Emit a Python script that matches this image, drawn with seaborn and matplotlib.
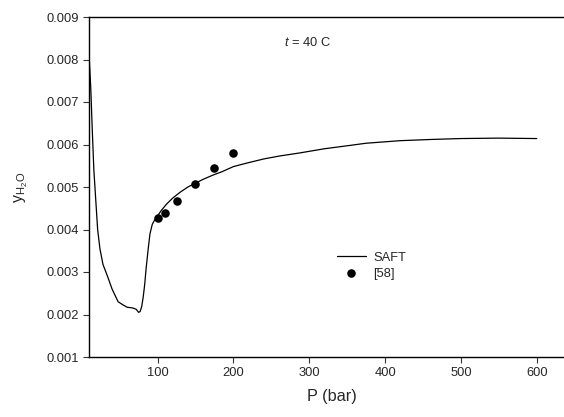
import matplotlib
matplotlib.use("Agg")
import matplotlib.pyplot as plt
import seaborn as sns
import pandas as pd

# SAFT model curve
saft_P = [10, 12, 14, 16, 18.5, 21, 24, 28, 34, 40, 48, 55, 60, 65, 68, 72, 75, 77,
          79, 81, 83, 85, 88, 90, 93, 96, 100, 105, 112, 120, 130, 140, 151, 160,
          173, 185, 200, 217, 240, 261, 287, 320, 350, 375, 420, 463, 500, 550, 600]
saft_y = [0.0080, 0.0073, 0.0063, 0.0054, 0.0047, 0.0040, 0.00355, 0.00318, 0.0029,
          0.00260, 0.0023, 0.00222, 0.00217, 0.00216, 0.00215, 0.00212, 0.00205,
          0.00207, 0.00218, 0.0024, 0.0027, 0.0031, 0.0036, 0.0039, 0.00412, 0.00422,
          0.00432, 0.00445, 0.00460, 0.00474, 0.00488, 0.00500, 0.00510, 0.00518,
          0.00528, 0.00536, 0.00548, 0.00556, 0.00566, 0.00573, 0.00580, 0.00590,
          0.00597, 0.00603, 0.00609, 0.00612, 0.00614, 0.00615, 0.00614]

# Experimental data [58]
exp_P = [100, 110, 125, 150, 175, 200]
exp_y = [0.00428, 0.00440, 0.00468, 0.00508, 0.00544, 0.00581]

x_ticks = [100, 200, 300, 400, 500, 600]
y_ticks = [0.001, 0.002, 0.003, 0.004, 0.005, 0.006, 0.007, 0.008, 0.009]

sns.set_style("ticks")
plt.rcParams['font.family'] = ['Liberation Sans', 'DejaVu Sans']
plt.rcParams['mathtext.fontset'] = 'custom'
plt.rcParams['mathtext.rm'] = 'Liberation Sans'
plt.rcParams['mathtext.it'] = 'Liberation Sans:italic'

fig = plt.figure(figsize=(5.64, 4.17), dpi=100)
# axes extend slightly beyond the right edge of the figure (cropped like the reference)
ax = fig.add_axes([89.3 / 564, 1 - 357 / 417, (574.7 - 89.3) / 564, (357 - 17) / 417])

df_saft = pd.DataFrame({"P": saft_P, "y": saft_y})
df_exp = pd.DataFrame({"P": exp_P, "y": exp_y})

sns.lineplot(data=df_saft, x="P", y="y", ax=ax, color="black", linewidth=0.9,
             estimator=None, label="SAFT")
sns.scatterplot(data=df_exp, x="P", y="y", ax=ax, color="black", s=38,
                edgecolor="black", linewidth=0, label="[58]", zorder=3)

ax.set_xlim(10, 650)
ax.set_ylim(0.001, 0.009)
ax.set_xticks(x_ticks)
ax.set_yticks(y_ticks)
ax.set_yticklabels([f"{v:.3f}" for v in y_ticks])
ax.tick_params(axis="both", labelsize=9.3, length=4.5, width=0.8, color="#333333",
               direction="out", pad=3)
for s in ["left", "bottom", "top", "right"]:
    ax.spines[s].set_linewidth(1.0)
    ax.spines[s].set_color("black")

ax.set_xlabel("P (bar)", fontsize=11.7, labelpad=7)
ax.set_ylabel(r"y$_{\mathregular{H_2O}}$", fontsize=11.5, labelpad=12)

ax.text(0.402, 0.925, r"$t$ = 40 C", transform=ax.transAxes, fontsize=9.3,
        ha="left", va="center")

leg = ax.legend(loc="upper left", bbox_to_anchor=(0.499, 0.325), frameon=False,
                fontsize=9.3, handlelength=2.25, handletextpad=0.6, labelspacing=0.3,
                borderaxespad=0)

fig.savefig("out.png", dpi=100)
